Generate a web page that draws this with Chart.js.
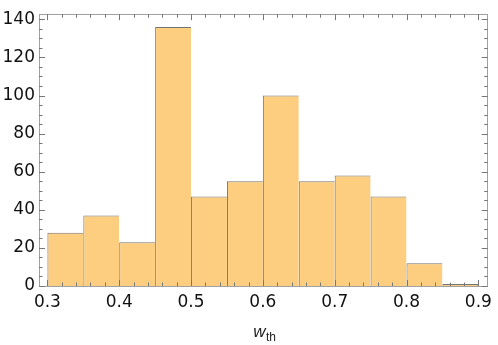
<!DOCTYPE html>
<html>
<head>
<meta charset="utf-8">
<script src="https://cdn.jsdelivr.net/npm/chart.js@4.4.1/dist/chart.umd.min.js"></script>
<style>
  html, body { margin: 0; padding: 0; background: #fff; }
  #wrap { width: 498px; height: 345px; }
</style>
</head>
<body>
<div id="wrap"><canvas id="plot" width="498" height="345"></canvas></div>
<script>
// histogram bins (left edges), width 0.05
const binStarts = [0.30, 0.35, 0.40, 0.45, 0.50, 0.55, 0.60, 0.65, 0.70, 0.75, 0.80, 0.85];
const binWidth = 0.05;
const counts = [28, 37, 23, 136, 47, 55, 100, 55, 58, 47, 12, 1];
const xTickLabels = [0.3, 0.4, 0.5, 0.6, 0.7, 0.8, 0.9];
const yTickLabels = [0, 20, 40, 60, 80, 100, 120, 140];

const fontFam = '"DejaVu Sans", "Liberation Sans", sans-serif';
const labelFam = '"Liberation Sans", Arial, sans-serif';

// frame + inward ticks like Mathematica
const framePlugin = {
  id: 'frame',
  afterDatasetsDraw(chart) {
    const { ctx, chartArea: a, scales } = chart;
    const xs = scales.x, ys = scales.y;
    ctx.save();
    ctx.strokeStyle = '#a0a0a0';
    ctx.lineWidth = 1;
    ctx.strokeRect(Math.round(a.left) + 0.5, Math.round(a.top) + 0.5,
      Math.round(a.right - a.left) - 1, Math.round(a.bottom - a.top));

    ctx.strokeStyle = '#777';
    function xt(v, len) {
      const px = Math.round(xs.getPixelForValue(v)) + 0.5;
      ctx.beginPath();
      ctx.moveTo(px, a.bottom); ctx.lineTo(px, a.bottom - len);
      ctx.moveTo(px, a.top); ctx.lineTo(px, a.top + len);
      ctx.stroke();
    }
    function yt(v, len) {
      const py = Math.round(ys.getPixelForValue(v)) + 0.5;
      ctx.beginPath();
      ctx.moveTo(a.left, py); ctx.lineTo(a.left + len, py);
      ctx.moveTo(a.right, py); ctx.lineTo(a.right - len, py);
      ctx.stroke();
    }
    for (let i = 0; i <= 30; i++) {
      xt(0.3 + i * 0.02, i % 5 === 0 ? 6 : 3.5);
    }
    for (let i = 0; i <= 28; i++) {
      yt(i * 5, i % 4 === 0 ? 6 : 3.5);
    }

    // axis label w_th
    const cx = (a.left + a.right) / 2;
    ctx.fillStyle = '#222';
    ctx.textBaseline = 'alphabetic';
    ctx.textAlign = 'left';
    ctx.font = 'italic 17px ' + labelFam;
    const wW = ctx.measureText('w').width;
    ctx.font = '12px ' + labelFam;
    const tW = ctx.measureText('th').width;
    const x0 = cx - (wW + tW) / 2 + 1;
    ctx.font = 'italic 17px ' + labelFam;
    ctx.fillText('w', x0, 337);
    ctx.font = '12px ' + labelFam;
    ctx.fillText('th', x0 + wW + 0.5, 341);
    ctx.restore();
  }
};

const ctx = document.getElementById('plot').getContext('2d');
new Chart(ctx, {
  type: 'bar',
  data: {
    datasets: [{
      data: binStarts.map((s, i) => ({ x: s + binWidth / 2, y: counts[i] })),
      backgroundColor: 'rgb(253, 205, 128)',
      borderColor: 'rgba(70, 70, 70, 0.75)',
      borderWidth: c => ({ top: 1, left: 1, bottom: 0, right: c.dataIndex === counts.length - 1 ? 1 : 0 }),
      borderSkipped: false,
      barPercentage: 1,
      categoryPercentage: 1,
      inflateAmount: 0
    }]
  },
  options: {
    responsive: false,
    animation: false,
    devicePixelRatio: 1,
    layout: { padding: { top: 6, right: 6, left: 0, bottom: 0 } },
    plugins: { legend: { display: false }, tooltip: { enabled: false } },
    scales: {
      x: {
        type: 'linear',
        offset: false,
        min: 0.2883,
        max: 0.913,
        grid: { display: false, drawTicks: false },
        border: { display: false },
        afterBuildTicks: s => { s.ticks = xTickLabels.map(v => ({ value: v })); },
        afterFit: s => { s.height = 59; },
        ticks: {
          padding: 6,
          maxRotation: 0,
          autoSkip: false,
          color: '#111',
          font: { family: fontFam, size: 17 },
          callback: v => v.toFixed(1)
        }
      },
      y: {
        min: 0,
        max: 142.7,
        grid: { display: false, drawTicks: false },
        border: { display: false },
        afterBuildTicks: s => { s.ticks = yTickLabels.map(v => ({ value: v })); },
        afterFit: s => { s.width = 39; },
        ticks: {
          padding: 4,
          color: '#111',
          font: { family: fontFam, size: 17 }
        }
      }
    }
  },
  plugins: [framePlugin]
});
</script>
</body>
</html>
